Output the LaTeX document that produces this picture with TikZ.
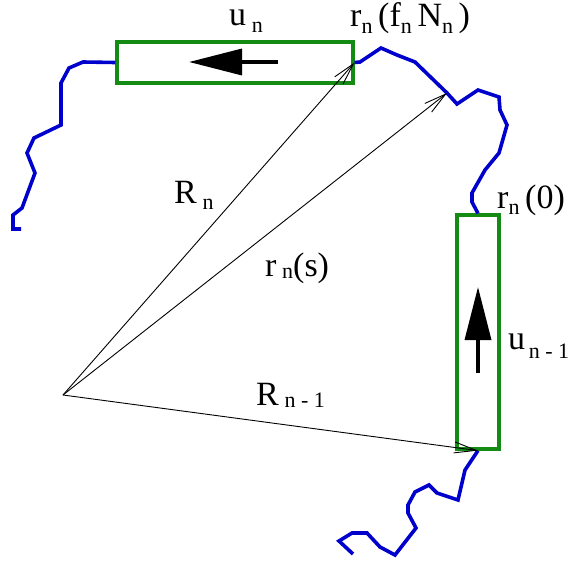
\documentclass[tikz,border=0pt]{standalone}
\usepackage{fontspec}
\setmainfont{Liberation Serif}
\usetikzlibrary{arrows.meta}
\definecolor{chainblue}{RGB}{0,0,205}
\definecolor{boxgreen}{RGB}{20,140,20}
\newcommand\mainsz{\fontsize{34}{37}\selectfont}
\newcommand\subsz{\fontsize{22}{24}\selectfont}
\newcommand\sbx[2]{\raisebox{-#1pt}{\subsz #2}}
\tikzset{
  chain/.style={draw=chainblue, line width=3.6pt, line join=miter},
  segbox/.style={draw=boxgreen, line width=3.2pt, fill=none, inner sep=0pt},
  vec/.style={draw=black, line width=0.9pt, -{Straight Barb[length=22pt,width=11pt,line width=0.9pt]}},
  dirarrow/.style={draw=black, line width=3.5pt, -{Triangle[length=53pt,width=26pt]}},
  lab/.style={anchor=base west, inner sep=0pt, font=\mainsz}
}
\begin{document}
\begin{tikzpicture}[x=1pt,y=-1pt]
\useasboundingbox (0,0) rectangle (571,562);
% boxes
\node[segbox, minimum width=236pt, minimum height=41pt] (boxn) at (235,62.5) {};
\node[segbox, minimum width=42pt, minimum height=234pt] (boxm) at (478,332) {};
% chains
\draw[chain] (boxn.west) -- (83,62) -- (69,68) -- (61,83) -- (61,125) -- (34,138) -- (27,153) -- (35,173) -- (22,208) -- (13,215) -- (13,229) -- (21,229);
\coordinate (s) at (447,93);
\draw[chain] (boxn.east) -- (360,62) -- (381,48) -- (397,55) -- (415,62) -- (s) -- (457,104) -- (478,90) -- (499,97) -- (500,110) -- (507,125) -- (499,153) -- (485,170) -- (472,193) -- (472,202) -- (boxm.north);
\draw[chain] (boxm.south) -- (465,470) -- (458,500) -- (437,493) -- (429,485) -- (415,492) -- (408,505) -- (408,513) -- (416,528) -- (395,555) -- (380,547) -- (367,533) -- (352,533) -- (339,541) -- (353,554);
% direction arrows
\coordinate (ta) at (278,62);
\coordinate (ha) at (189,62);
\draw[dirarrow] (ta) -- (ha);
\coordinate (tb) at (478,373);
\coordinate (hb) at (478,287);
\draw[dirarrow] (tb) -- (hb);
% position vectors
\coordinate (O) at (63,395);
\draw[vec] (O) -- (boxn.east);
\draw[vec] (O) -- (s);
\draw[vec] (O) -- (boxm.south);
% labels
\node[lab] (lun) at (229,26) {u\,\sbx{6}{n}};
\node[lab] (lrf) at (350,27) {r\sbx{7}{n}\,(f\sbx{7}{n}\,N\sbx{7}{n}\,)};
\node[lab] (lRn) at (174,203) {R\,\sbx{6}{n}};
\node[lab] (lrs) at (265,276) {r\,\sbx{2}{n}(s)};
\node[lab] (lr0) at (497,208) {r\sbx{6}{n}\,(0)};
\node[lab] (lum) at (508,349) {u\sbx{9}{\,n - 1}};
\node[lab] (lRm) at (256,405) {R\,\sbx{2}{n - 1}};
\end{tikzpicture}
\end{document}
